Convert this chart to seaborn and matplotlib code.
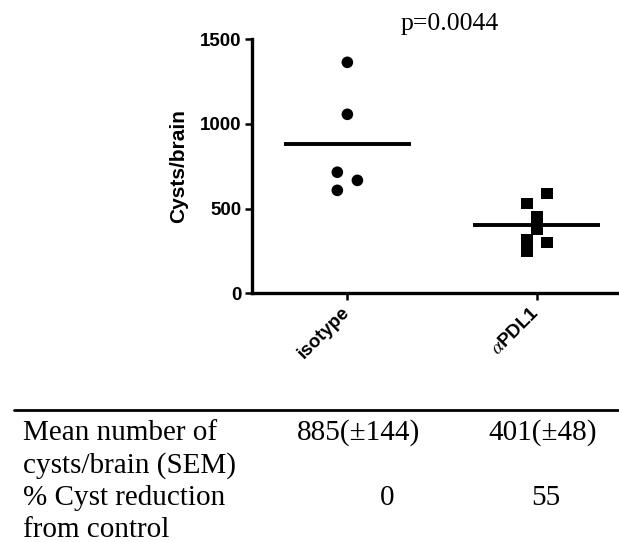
import numpy as np
import pandas as pd
import matplotlib
matplotlib.use('Agg')
import matplotlib.pyplot as plt
import seaborn as sns

# cysts per brain
groups = ['isotype', 'aPDL1']
tick_labels = ['isotype', r'$\alpha$PDL1']
isotype = [1364, 1057, 715, 667, 608]
apdl1 = [590, 531, 449, 380, 315, 299, 246]
p_text = 'p=0.0044'

# table under the plot
table_label_lines = ['Mean number of', 'cysts/brain (SEM)', '% Cyst reduction', 'from control']
isotype_cells = ['885(\u00b1144)', '0']
apdl1_cells = ['401(\u00b148)', '55']


def lanes(vals, gap=62, step=0.053):
    # Prism-like spreading: close points alternate left/right
    vals = np.asarray(vals, dtype=float)
    order = np.argsort(vals)
    v = vals[order]
    off = np.zeros(len(v))
    clusters, cur = [], [0]
    for i in range(1, len(v)):
        if v[i] - v[i - 1] < gap:
            cur.append(i)
        else:
            clusters.append(cur)
            cur = [i]
    clusters.append(cur)
    for c in clusters:
        if len(c) > 1:
            for k, i in enumerate(c):
                off[i] = -step if k % 2 == 0 else step
    out = np.zeros(len(v))
    out[order] = off
    return out


df = pd.concat([
    pd.DataFrame({'group': g, 'value': vals, 'x': i + lanes(vals)})
    for i, (g, vals) in enumerate(zip(groups, [isotype, apdl1]))
])

sns.set_style('ticks')
plt.rcParams['font.family'] = ['Liberation Sans', 'DejaVu Sans']
plt.rcParams['mathtext.fontset'] = 'stix'
plt.rcParams['text.color'] = 'black'
plt.rcParams['axes.labelcolor'] = 'black'

W, H = 619, 542
fig = plt.figure(figsize=(W / 100, H / 100), dpi=100)
ax = fig.add_axes([251.7 / W, 1 - 293.3 / H, (W - 251.7) / W, (293.3 - 39.3) / H])

sns.scatterplot(data=df, x='x', y='value', style='group',
                markers={'isotype': 'o', 'aPDL1': 's'}, s=70,
                color='black', edgecolor='black', linewidth=0,
                legend=False, ax=ax)

for i, vals in enumerate([isotype, apdl1]):
    ax.hlines(np.mean(vals), i - 0.335, i + 0.335, color='black', lw=2.8)

ax.set_xlim(-0.505, 1.434)
ax.set_ylim(0, 1500)
ax.set_yticks([0, 500, 1000, 1500])
ax.set_xticks([0, 1])
ax.set_xticklabels(tick_labels, rotation=45, ha='right', va='center',
                   rotation_mode='anchor', fontweight='bold', fontsize=13.5)
for lab in ax.get_yticklabels():
    lab.set_fontweight('bold')
    lab.set_fontsize(13.5)
ax.set_xlabel('')
ax.set_ylabel('Cysts/brain', fontsize=15, fontweight='bold')
ax.yaxis.set_label_coords(-0.172, 0.5)
sns.despine(ax=ax)
for sp in ['left', 'bottom']:
    ax.spines[sp].set_linewidth(2.4)
    ax.spines[sp].set_color('black')
ax.tick_params(width=1.8, length=5, pad=2.5, colors='black')
ax.tick_params(axis='x', pad=7)

serif = ['Liberation Serif', 'DejaVu Serif']


def px(x, y):
    return x / W, 1 - y / H


fig.text(*px(450, 30), p_text, family=serif, fontsize=18.5, ha='center', va='baseline')

fig.add_artist(plt.Line2D([14 / W, 1], [1 - 410 / H] * 2, color='black', lw=2))
for line, yb in zip(table_label_lines, [440, 473, 505, 537]):
    fig.text(*px(22.7, yb), line, family=serif, fontsize=21, ha='left', va='baseline')
for (cx, cells) in [((358, 387.5), isotype_cells), ((543, 546), apdl1_cells)]:
    for x, cell, yb in zip(cx, cells, [440, 505]):
        fig.text(*px(x, yb), cell, family=serif, fontsize=21, ha='center', va='baseline')

fig.savefig('out.png', dpi=100)
